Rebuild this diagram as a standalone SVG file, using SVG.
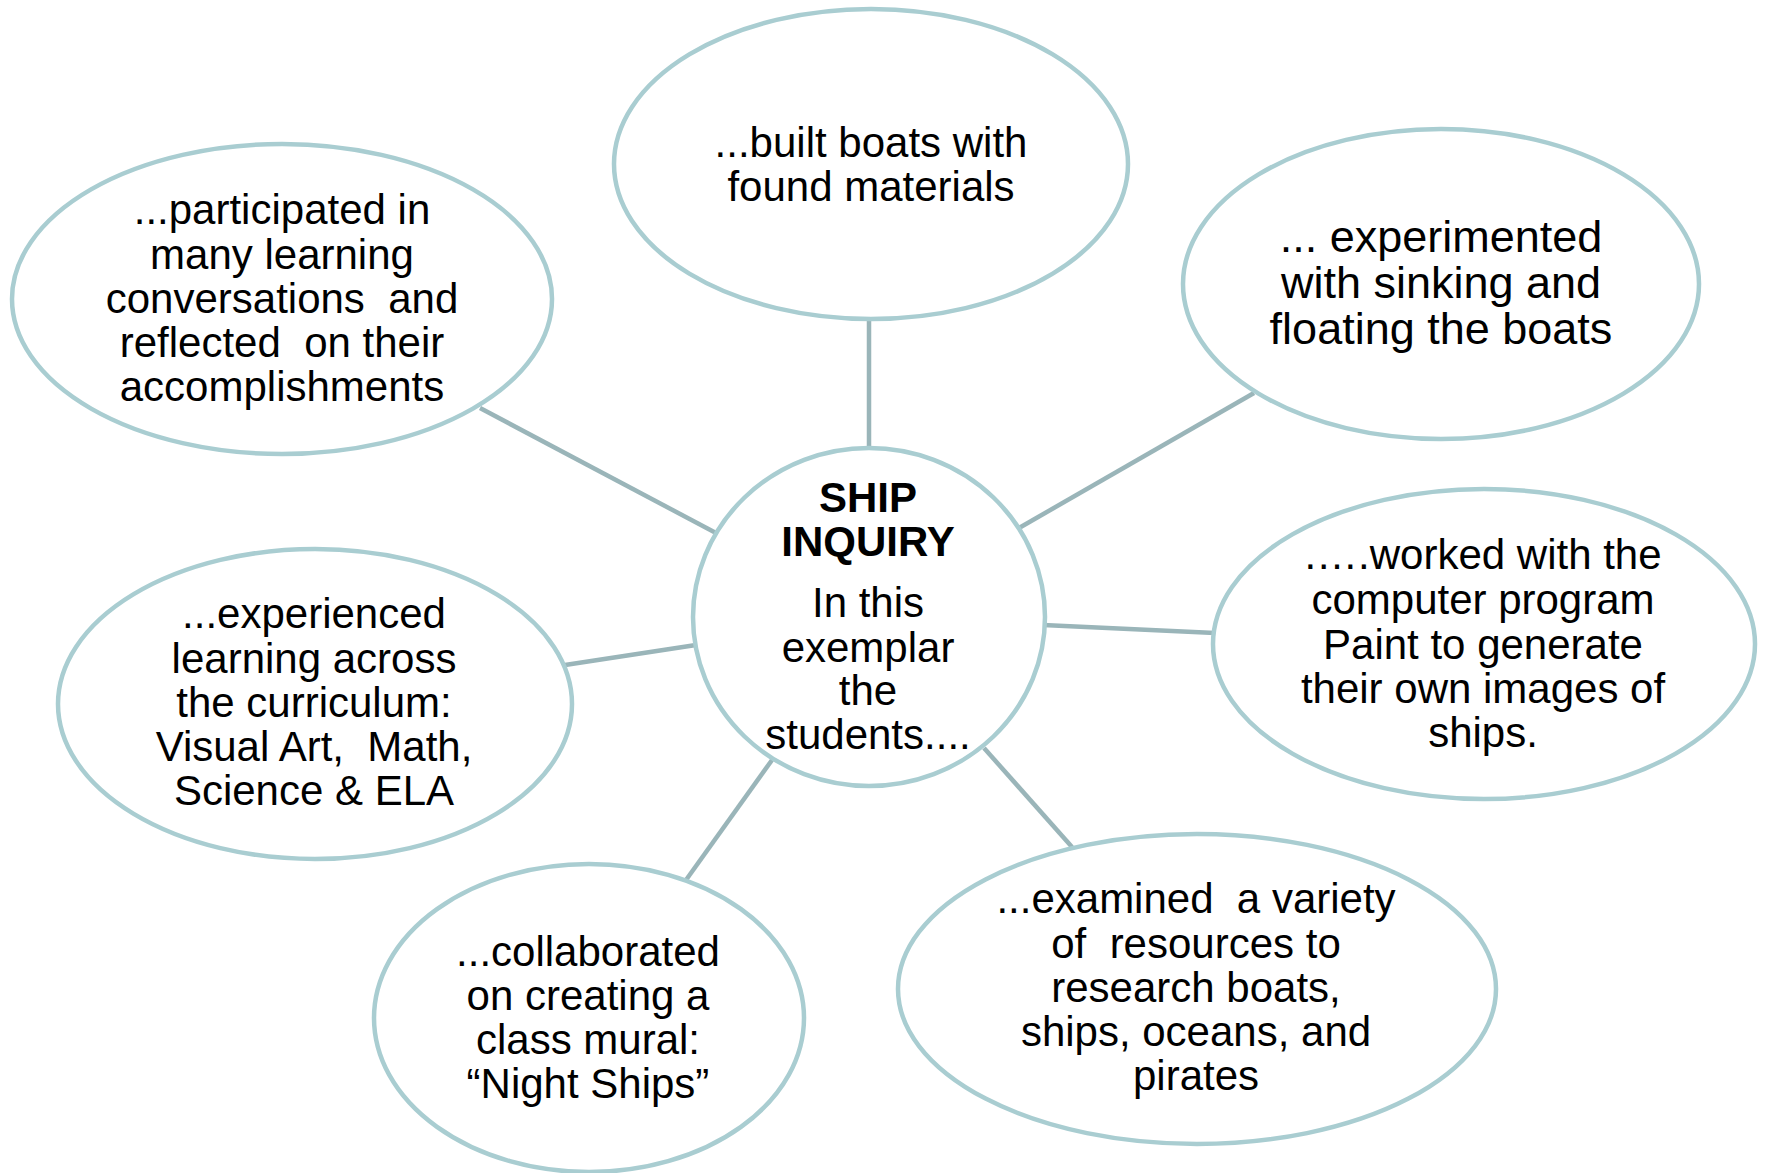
<svg xmlns="http://www.w3.org/2000/svg" width="1766" height="1173" viewBox="0 0 1766 1173">
<style>
.node{fill:#ffffff;stroke:#a9cdd1;stroke-width:4.5}
.conn{stroke:#9ab5b9;stroke-width:4.5;fill:none}
text{font-family:"Liberation Sans",Arial,sans-serif;font-size:42px;fill:#000;text-anchor:middle}
.b{font-weight:bold}
.big{font-size:45px}
</style>
<rect width="1766" height="1173" fill="#ffffff"/>
<g id="connectors">
<line class="conn" x1="869" y1="318" x2="869" y2="450"/>
<line class="conn" x1="480" y1="408" x2="716" y2="533"/>
<line class="conn" x1="1254" y1="393" x2="1019" y2="528"/>
<line class="conn" x1="1043" y1="625" x2="1215" y2="633"/>
<line class="conn" x1="565" y1="665" x2="696" y2="645"/>
<line class="conn" x1="772" y1="760" x2="686" y2="880"/>
<line class="conn" x1="984" y1="748" x2="1072" y2="847"/>
</g>
<g id="center">
<ellipse class="node" cx="869" cy="617" rx="176" ry="169"/>
<text class="b" x="868" y="512">SHIP</text>
<text class="b" x="868" y="556">INQUIRY</text>
<text x="868" y="617">In this</text>
<text x="868" y="662">exemplar</text>
<text x="868" y="705">the</text>
<text x="868" y="749">students....</text>
</g>
<g id="node-built">
<ellipse class="node" cx="871" cy="164" rx="257" ry="155"/>
<text x="871" y="157">...built boats with</text>
<text x="871" y="201">found materials</text>
</g>
<g id="node-participated">
<ellipse class="node" cx="282" cy="299" rx="270" ry="155"/>
<text x="282" y="224">...participated in</text>
<text x="282" y="269">many learning</text>
<text x="282" y="313" xml:space="preserve">conversations  and</text>
<text x="282" y="357" xml:space="preserve">reflected  on their</text>
<text x="282" y="401">accomplishments</text>
</g>
<g id="node-experimented">
<ellipse class="node" cx="1441" cy="284" rx="258" ry="155"/>
<text class="big" x="1441" y="252">... experimented</text>
<text class="big" x="1441" y="298">with sinking and</text>
<text class="big" x="1441" y="344">floating the boats</text>
</g>
<g id="node-worked">
<ellipse class="node" cx="1484" cy="644" rx="271" ry="155"/>
<text x="1483" y="569">.….worked with the</text>
<text x="1483" y="614">computer program</text>
<text x="1483" y="659">Paint to generate</text>
<text x="1483" y="703">their own images of</text>
<text x="1483" y="747">ships.</text>
</g>
<g id="node-experienced">
<ellipse class="node" cx="315" cy="704" rx="257" ry="155"/>
<text x="314" y="628">...experienced</text>
<text x="314" y="673">learning across</text>
<text x="314" y="717">the curriculum:</text>
<text x="314" y="761" xml:space="preserve">Visual Art,  Math,</text>
<text x="314" y="805">Science &amp; ELA</text>
</g>
<g id="node-collaborated">
<ellipse class="node" cx="589" cy="1018" rx="215" ry="154"/>
<text x="588" y="966">...collaborated</text>
<text x="588" y="1010">on creating a</text>
<text x="588" y="1054">class mural:</text>
<text x="588" y="1098">“Night Ships”</text>
</g>
<g id="node-examined">
<ellipse class="node" cx="1197" cy="989" rx="299" ry="155"/>
<text x="1196" y="913" xml:space="preserve">...examined  a variety</text>
<text x="1196" y="958" xml:space="preserve">of  resources to</text>
<text x="1196" y="1002">research boats,</text>
<text x="1196" y="1046">ships, oceans, and</text>
<text x="1196" y="1090">pirates</text>
</g>
</svg>
